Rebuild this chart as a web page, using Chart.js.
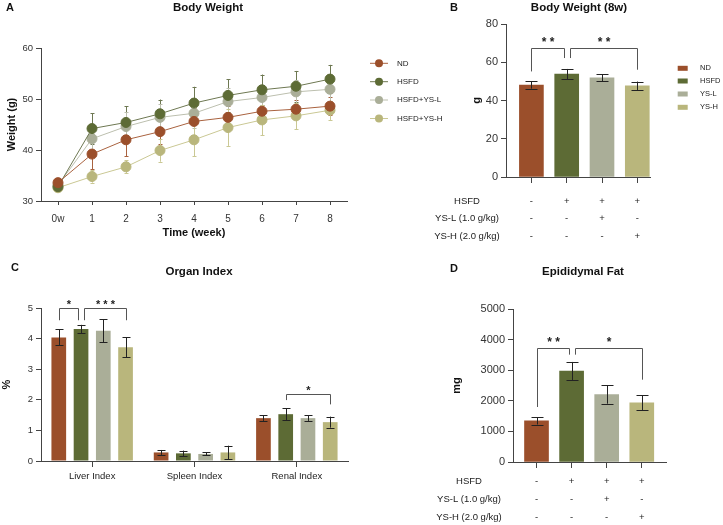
<!DOCTYPE html>
<html>
<head>
<meta charset="utf-8" />
<title>Body Weight / Organ Index / Epididymal Fat</title>
<script src="https://cdn.jsdelivr.net/npm/chart.js@4.4.1/dist/chart.umd.min.js"></script>
<style>
  body { margin: 0; background: #fff; font-family: 'Liberation Sans', Arial, sans-serif; }
  #wrap { position: relative; width: 723px; height: 525px; overflow: hidden; }
  canvas { position: absolute; }
  .lbl { position: absolute; font-weight: bold; color: #111; white-space: nowrap; line-height: 14px; }
  .ttl { text-align: center; width: 200px; font-size: 11.5px; }
</style>
</head>
<body>
<div id="wrap">
  <canvas id="chartA" width="460" height="255" style="left:0;top:0"></canvas>
  <canvas id="chartB" width="323" height="255" style="left:400px;top:0"></canvas>
  <canvas id="chartC" width="360" height="270" style="left:0;top:255px"></canvas>
  <canvas id="chartD" width="323" height="270" style="left:400px;top:255px"></canvas>

  <div class="lbl" style="left:6px;top:0;font-size:11px">A</div>
  <div class="lbl ttl" style="left:108px;top:0">Body Weight</div>
  <div class="lbl" style="left:450px;top:0;font-size:11px">B</div>
  <div class="lbl ttl" style="left:479px;top:0">Body Weight (8w)</div>
  <div class="lbl" style="left:11px;top:260px;font-size:11px">C</div>
  <div class="lbl ttl" style="left:99px;top:264px">Organ Index</div>
  <div class="lbl" style="left:450px;top:261px;font-size:11px">D</div>
  <div class="lbl ttl" style="left:483px;top:264px">Epididymal Fat</div>
</div>
<script>
  // ---- data ----
  const groups = ["ND", "HSFD", "HSFD+YS-L", "HSFD+YS-H"];
  const groupsShort = ["ND", "HSFD", "YS-L", "YS-H"];
  const colors = ["#9b4f2b", "#5d6b35", "#aaae98", "#b9b67c"];
  const lineColors = ["#a9623f", "#6e7852", "#bcbfae", "#cac894"];

  const weeks = [0, 1, 2, 3, 4, 5, 6, 7, 8];
  const weightND   = [33.6, 39.2, 42.0, 43.6, 45.6, 46.4, 47.6, 48.0, 48.6];
  const weightHSFD = [32.8, 44.2, 45.4, 47.1, 49.2, 50.7, 51.8, 52.5, 53.9];
  const weightYSL  = [33.1, 42.2, 44.6, 46.4, 47.2, 49.5, 50.3, 51.4, 51.9];
  const weightYSH  = [32.6, 34.8, 36.7, 39.9, 42.0, 44.4, 45.9, 46.7, 47.8];
  const weightNDsd   = [0.8, 3.0, 3.2, 2.5, 2.6, 2.2, 2.0, 1.8, 1.8];
  const weightHSFDsd = [0.7, 3.0, 3.2, 2.8, 3.2, 3.2, 3.0, 3.0, 2.8];
  const weightYSLsd  = [0.6, 2.5, 2.8, 2.6, 2.8, 2.6, 2.4, 2.3, 2.2];
  const weightYSHsd  = [0.6, 1.2, 1.3, 2.2, 3.2, 3.6, 3.0, 2.6, 1.9];

  const bw8 = [48.1, 53.8, 51.9, 47.7];
  const bw8SD = [1.9, 2.7, 1.7, 2.2];
  const bw8Sig = [
    { a: 0, b: 1, top: 67.7, legA: 55.2, legB: 62.2, text: "**" },
    { a: 1, b: 3, top: 67.7, legA: 62.2, legB: 56.1, text: "**" },
  ];

  const organs = ["Liver Index", "Spleen Index", "Renal Index"];
  const organND   = [4.04, 0.28, 1.40];
  const organHSFD = [4.31, 0.25, 1.53];
  const organYSL  = [4.26, 0.23, 1.40];
  const organYSH  = [3.72, 0.28, 1.27];
  const organNDsd   = [0.26, 0.08, 0.09];
  const organHSFDsd = [0.14, 0.09, 0.19];
  const organYSLsd  = [0.38, 0.05, 0.09];
  const organYSHsd  = [0.33, 0.22, 0.18];
  const organSig = [
    { a: [0, 0], b: [1, 0], top: 5.0, legA: 4.6, legB: 4.6, text: "*" },
    { a: [1, 0], b: [3, 0], top: 5.0, legA: 4.6, legB: 4.6, text: "***" },
    { a: [1, 2], b: [3, 2], top: 2.2, legA: 1.99, legB: 1.85, text: "*" },
  ];

  const fat = [1345, 2975, 2205, 1930];
  const fatSD = [120, 295, 300, 245];
  const fatSig = [
    { a: 0, b: 1, top: 3725, legA: 1797, legB: 3508, text: "**" },
    { a: 1, b: 3, top: 3725, legA: 3508, legB: 2690, text: "*" },
  ];

  const tableRows = ["HSFD", "YS-L (1.0 g/kg)", "YS-H (2.0 g/kg)"];
  const tableMarks = [
    ["-", "+", "+", "+"],
    ["-", "-", "+", "-"],
    ["-", "-", "-", "+"],
  ];

  // ---- helpers ----
  const FONT = "'Liberation Sans', Arial, sans-serif";
  Chart.defaults.font.family = FONT;
  Chart.defaults.color = "#333";
  const AXIS = "#444";

  function errBars(under, half, fixedColor) {
    const draw = (chart) => {
      const ctx = chart.ctx, ys = chart.scales.y;
      ctx.save();
      ctx.lineWidth = 1;
      chart.data.datasets.forEach((ds, di) => {
        const meta = chart.getDatasetMeta(di);
        meta.data.forEach((el, i) => {
          const raw = ds.data[i];
          const m = typeof raw === "object" ? raw.y : raw;
          const sd = ds.sd[i];
          const x = Math.round(el.x) + 0.5;
          const y1 = ys.getPixelForValue(m + sd), y2 = ys.getPixelForValue(m - sd);
          ctx.strokeStyle = fixedColor || ds.errColor;
          ctx.beginPath();
          ctx.moveTo(x, y1); ctx.lineTo(x, y2);
          ctx.moveTo(x - half, Math.round(y1) + 0.5); ctx.lineTo(x + half, Math.round(y1) + 0.5);
          ctx.moveTo(x - half, Math.round(y2) + 0.5); ctx.lineTo(x + half, Math.round(y2) + 0.5);
          ctx.stroke();
        });
      });
      ctx.restore();
    };
    return {
      id: "errbars",
      beforeDatasetsDraw(chart) { if (under) draw(chart); },
      afterDatasetsDraw(chart) { if (!under) draw(chart); },
    };
  }

  function brackets(list, xOf, fontSize, gap) {
    return {
      id: "brackets",
      afterDatasetsDraw(chart) {
        const ctx = chart.ctx, ys = chart.scales.y;
        const same = (p, q) => JSON.stringify(p) === JSON.stringify(q);
        ctx.save();
        ctx.strokeStyle = "#555";
        ctx.lineWidth = 1;
        ctx.fillStyle = "#222";
        ctx.font = "bold " + fontSize + "px " + FONT;
        ctx.textAlign = "center";
        ctx.textBaseline = "alphabetic";
        list.forEach((s) => {
          let xa = Math.round(xOf(chart, s.a)) + 0.5;
          let xb = Math.round(xOf(chart, s.b)) + 0.5;
          if (list.some((o) => o !== s && same(o.b, s.a))) xa += 3;
          if (list.some((o) => o !== s && same(o.a, s.b))) xb -= 3;
          const yt = Math.round(ys.getPixelForValue(s.top)) + 0.5;
          ctx.beginPath();
          ctx.moveTo(xa, ys.getPixelForValue(s.legA));
          ctx.lineTo(xa, yt); ctx.lineTo(xb, yt);
          ctx.lineTo(xb, ys.getPixelForValue(s.legB));
          ctx.stroke();
          ctx.fillText(s.text.split("").join(" "), (xa + xb) / 2, yt - gap);
        });
        ctx.restore();
      },
    };
  }

  function table(labelX, rowY) {
    return {
      id: "table",
      afterDraw(chart) {
        const ctx = chart.ctx, xs = chart.scales.x;
        ctx.save();
        ctx.font = "9.5px " + FONT;
        ctx.fillStyle = "#222";
        ctx.textBaseline = "middle";
        ctx.textAlign = "center";
        tableRows.forEach((r, ri) => {
          ctx.fillText(r, labelX, rowY[ri]);
          tableMarks[ri].forEach((mk, i) => ctx.fillText(mk, xs.getPixelForValue(i), rowY[ri]));
        });
        ctx.restore();
      },
    };
  }

  const barX = (chart, i) => chart.getDatasetMeta(0).data[i].x;
  const groupedX = (chart, key) => chart.getDatasetMeta(key[0]).data[key[1]].x;

  function yAxis(width, min, max, step, title, titlePad, fontSize) {
    return {
      min: min, max: max,
      afterFit: (s) => { s.width = width; },
      ticks: { stepSize: step, font: { size: fontSize }, padding: 3, color: "#333", format: { useGrouping: false } },
      grid: { drawOnChartArea: false, tickLength: 5, color: AXIS },
      border: { color: AXIS },
      title: { display: true, text: title, font: { size: 11, weight: "bold" }, color: "#111", padding: { top: titlePad, bottom: 0 } },
    };
  }

  function idxAxis(height, min, max, count) {
    return {
      type: "linear", min: min, max: max, offset: false,
      afterFit: (s) => { s.height = height; },
      afterBuildTicks: (s) => { s.ticks = Array.from({ length: count }, (_, i) => ({ value: i })); },
      ticks: { callback: () => "", autoSkip: false },
      grid: { drawOnChartArea: false, tickLength: 6, color: AXIS, offset: false },
      border: { color: AXIS },
    };
  }

  const base = {
    responsive: false,
    animation: false,
    events: [],
  };

  // ---- A: body weight curves ----
  const weightMeans = [weightND, weightHSFD, weightYSL, weightYSH];
  const weightSDs = [weightNDsd, weightHSFDsd, weightYSLsd, weightYSHsd];

  const legendA = {
    id: "legendA",
    afterDraw(chart) {
      const ctx = chart.ctx;
      const rows = [63.3, 81.7, 100, 118.5];
      ctx.save();
      ctx.font = "8px " + FONT;
      ctx.textBaseline = "middle";
      ctx.textAlign = "left";
      groups.forEach((g, k) => {
        const y = rows[k];
        ctx.strokeStyle = lineColors[k];
        ctx.lineWidth = 1;
        ctx.beginPath(); ctx.moveTo(370, y); ctx.lineTo(388, y); ctx.stroke();
        ctx.fillStyle = colors[k];
        ctx.beginPath(); ctx.arc(379, y, 4, 0, Math.PI * 2); ctx.fill();
        ctx.fillStyle = "#222";
        ctx.fillText(g, 397, y);
      });
      ctx.restore();
    },
  };

  new Chart(document.getElementById("chartA"), {
    type: "line",
    data: {
      datasets: groups.map((g, k) => ({
        label: g,
        data: weeks.map((w, i) => ({ x: w, y: weightMeans[k][i] })),
        sd: weightSDs[k],
        errColor: lineColors[k],
        borderColor: lineColors[k],
        backgroundColor: colors[k],
        pointBackgroundColor: colors[k],
        pointBorderColor: colors[k],
        pointRadius: 5,
        borderWidth: 1,
        tension: 0,
      })),
    },
    options: Object.assign({}, base, {
      layout: { padding: { left: 0, top: 48, right: 113, bottom: 0 } },
      plugins: { legend: { display: false }, tooltip: { enabled: false } },
      scales: {
        x: {
          type: "linear", min: -0.5, max: 8.5,
          afterFit: (s) => { s.height = 54; },
          afterBuildTicks: (s) => { s.ticks = weeks.map((w) => ({ value: w })); },
          ticks: { autoSkip: false, maxRotation: 0, padding: 8, font: { size: 10 },
                   callback: (v) => (v === 0 ? "0w" : String(v)) },
          grid: { drawOnChartArea: false, tickLength: 4, color: AXIS },
          border: { color: AXIS },
          title: { display: true, text: "Time (week)", font: { size: 11, weight: "bold" }, color: "#111", padding: { top: 0, bottom: 15 } },
        },
        y: yAxis(41, 30, 60, 10, "Weight (g)", 5, 9.5),
      },
    }),
    plugins: [errBars(true, 2), legendA],
  });

  // ---- B: body weight at 8 weeks ----
  const legendB = {
    id: "legendB",
    afterDraw(chart) {
      const ctx = chart.ctx;
      const rows = [68.3, 81, 94, 107.3];
      ctx.save();
      ctx.font = "7.5px " + FONT;
      ctx.textBaseline = "middle";
      ctx.textAlign = "left";
      groupsShort.forEach((g, k) => {
        ctx.fillStyle = colors[k];
        ctx.fillRect(277.7, rows[k] - 2.5, 10, 5);
        ctx.fillStyle = "#222";
        ctx.fillText(g, 300, rows[k]);
      });
      ctx.restore();
    },
  };

  new Chart(document.getElementById("chartB"), {
    type: "bar",
    data: {
      datasets: [{
        label: "Body Weight (8w)",
        data: bw8.map((v, i) => ({ x: i, y: v })),
        sd: bw8SD,
        backgroundColor: colors,
        barThickness: 24,
      }],
    },
    options: Object.assign({}, base, {
      layout: { padding: { left: 60, top: 24, right: 73, bottom: 0 } },
      plugins: { legend: { display: false }, tooltip: { enabled: false } },
      scales: {
        x: idxAxis(78, -0.72, 3.36, bw8.length),
        y: yAxis(46, 0, 80, 20, "g", 10, 11),
      },
    }),
    plugins: [errBars(false, 6, "#222"), brackets(bw8Sig, barX, 12, 3), legendB, table(67, [201, 218.3, 236])],
  });

  // ---- C: organ index ----
  const organMeans = [organND, organHSFD, organYSL, organYSH];
  const organSDs = [organNDsd, organHSFDsd, organYSLsd, organYSHsd];

  new Chart(document.getElementById("chartC"), {
    type: "bar",
    data: {
      labels: organs,
      datasets: groupsShort.map((g, k) => ({
        label: g,
        data: organMeans[k],
        sd: organSDs[k],
        backgroundColor: colors[k],
        categoryPercentage: 0.87,
        barPercentage: 0.66,
      })),
    },
    options: Object.assign({}, base, {
      layout: { padding: { left: 0, top: 53, right: 12, bottom: 0 } },
      plugins: { legend: { display: false }, tooltip: { enabled: false } },
      scales: {
        x: {
          afterFit: (s) => { s.height = 64; },
          ticks: { font: { size: 9.5 }, padding: 4, color: "#222", maxRotation: 0 },
          grid: { drawOnChartArea: false, tickLength: 6, color: AXIS, offset: false },
          border: { color: AXIS },
        },
        y: yAxis(41, 0, 5, 1, "%", 0, 9.5),
      },
    }),
    plugins: [errBars(false, 4, "#222"), brackets(organSig, groupedX, 11, 1)],
  });

  // ---- D: epididymal fat ----
  new Chart(document.getElementById("chartD"), {
    type: "bar",
    data: {
      datasets: [{
        label: "Epididymal Fat",
        data: fat.map((v, i) => ({ x: i, y: v })),
        sd: fatSD,
        backgroundColor: colors,
        barThickness: 24,
      }],
    },
    options: Object.assign({}, base, {
      layout: { padding: { left: 40, top: 54, right: 57, bottom: 0 } },
      plugins: { legend: { display: false }, tooltip: { enabled: false } },
      scales: {
        x: idxAxis(63, -0.67, 3.69, fat.length),
        y: yAxis(73, 0, 5000, 1000, "mg", 10, 11),
      },
    }),
    plugins: [errBars(false, 6, "#222"), brackets(fatSig, barX, 12, 3), table(69, [226.7, 244, 262.3])],
  });
</script>
</body>
</html>
